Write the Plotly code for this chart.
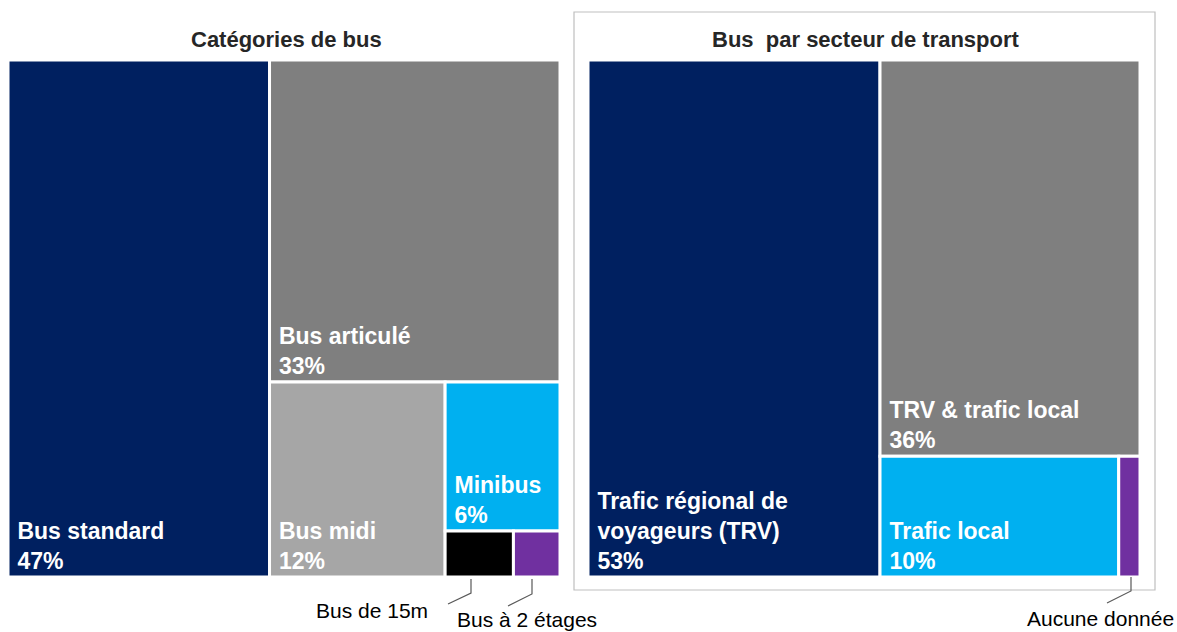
import plotly.graph_objects as go

W, H = 1177, 632

# ---- data ----
left_labels = ["Bus standard", "Bus articulé", "Bus midi", "Minibus", "Bus de 15m", "Bus à 2 étages"]
left_values = [47.4, 32.8, 12.0, 6.0, 1.1, 0.75]
left_pct_text = ["47%", "33%", "12%", "6%", "", ""]
left_colors = ["#002060", "#7F7F7F", "#A6A6A6", "#00B0F0", "#000000", "#7030A0"]

right_labels = ["Trafic régional de<br>voyageurs (TRV)", "TRV & trafic local", "Trafic local", "Aucune donnée"]
right_values = [52.9, 36.1, 10.1, 0.9]
right_pct_text = ["53%", "36%", "10%", ""]
right_colors = ["#002060", "#7F7F7F", "#00B0F0", "#7030A0"]

left_title = "Catégories de bus"
right_title = "Bus  par secteur de transport"

FONT = "Liberation Sans, Arial, sans-serif"
NB = "\u00a0"


def px_x(p):
    return p / W


def px_y(p):
    return 1 - p / H


def tile_text(label, pct):
    if not pct:
        return ""
    lines = label.split("<br>") + [pct]
    return "<br>".join(NB + l for l in lines)


def make_treemap(labels, values, pcts, colors, root_id, dom_x, dom_y):
    ids = [root_id] + [f"{root_id}_{i}" for i in range(len(labels))]
    parents = [""] + [root_id] * len(labels)
    vals = [sum(values)] + list(values)
    texts = [""] + [tile_text(l, p) for l, p in zip(labels, pcts)]
    return go.Treemap(
        ids=ids,
        labels=[""] + [l.replace("<br>", " ") for l in labels],
        parents=parents,
        values=vals,
        branchvalues="total",
        text=texts,
        texttemplate="%{text}",
        textposition="bottom left",
        textfont=dict(family=FONT, size=23, color="white", weight="bold"),
        marker=dict(
            colors=["white"] + colors,
            line=dict(width=3, color="white"),
            pad=dict(t=0, l=0, r=0, b=0),
        ),
        tiling=dict(packing="squarify", pad=0),
        pathbar=dict(visible=False),
        sort=True,
        hoverinfo="skip",
        domain=dict(x=dom_x, y=dom_y),
    )


fig = go.Figure()
fig.add_trace(make_treemap(left_labels, left_values, left_pct_text, left_colors, "L",
                           [px_x(8), px_x(560)], [px_y(577), px_y(60)]))
fig.add_trace(make_treemap(right_labels, right_values, right_pct_text, right_colors, "R",
                           [px_x(588), px_x(1140)], [px_y(577), px_y(60)]))

annotations = [
    dict(text=f"<b>{left_title}</b>", x=px_x(286), y=px_y(39), font=dict(size=22, color="#262626", family=FONT)),
    dict(text=f"<b>{right_title}</b>", x=px_x(866), y=px_y(39), font=dict(size=22, color="#262626", family=FONT)),
    dict(text="Bus de 15m", x=px_x(372), y=px_y(610), font=dict(size=21, color="black", family=FONT)),
    dict(text="Bus à 2 étages", x=px_x(527), y=px_y(619), font=dict(size=21, color="black", family=FONT)),
    dict(text="Aucune donnée", x=px_x(1100), y=px_y(618), font=dict(size=21, color="black", family=FONT)),
]
for a in annotations:
    a.update(xref="paper", yref="paper", showarrow=False, xanchor="center", yanchor="middle")

shapes = [
    dict(type="rect", xref="paper", yref="paper",
         x0=px_x(574), x1=px_x(1155), y0=px_y(590), y1=px_y(12),
         line=dict(color="#BFBFBF", width=1.2), fillcolor="rgba(0,0,0,0)", layer="below"),
]
# leader lines (vertical tick then diagonal)
for pts in [[(471, 579), (471, 593), (448, 604)],
            [(532, 579), (532, 594), (508, 606)],
            [(1131, 577), (1131, 591), (1107, 603)]]:
    path = "M " + " L ".join(f"{px_x(x)},{px_y(y)}" for x, y in pts)
    shapes.append(dict(type="path", xref="paper", yref="paper", path=path,
                       line=dict(color="#595959", width=1.2)))

fig.update_layout(
    width=W, height=H,
    margin=dict(l=0, r=0, t=0, b=0),
    paper_bgcolor="white",
    plot_bgcolor="white",
    annotations=annotations,
    shapes=shapes,
    showlegend=False,
)

fig.write_html("out.html", config={"displayModeBar": False},
               post_script="document.body.style.margin='0';document.body.style.overflow='hidden';")
